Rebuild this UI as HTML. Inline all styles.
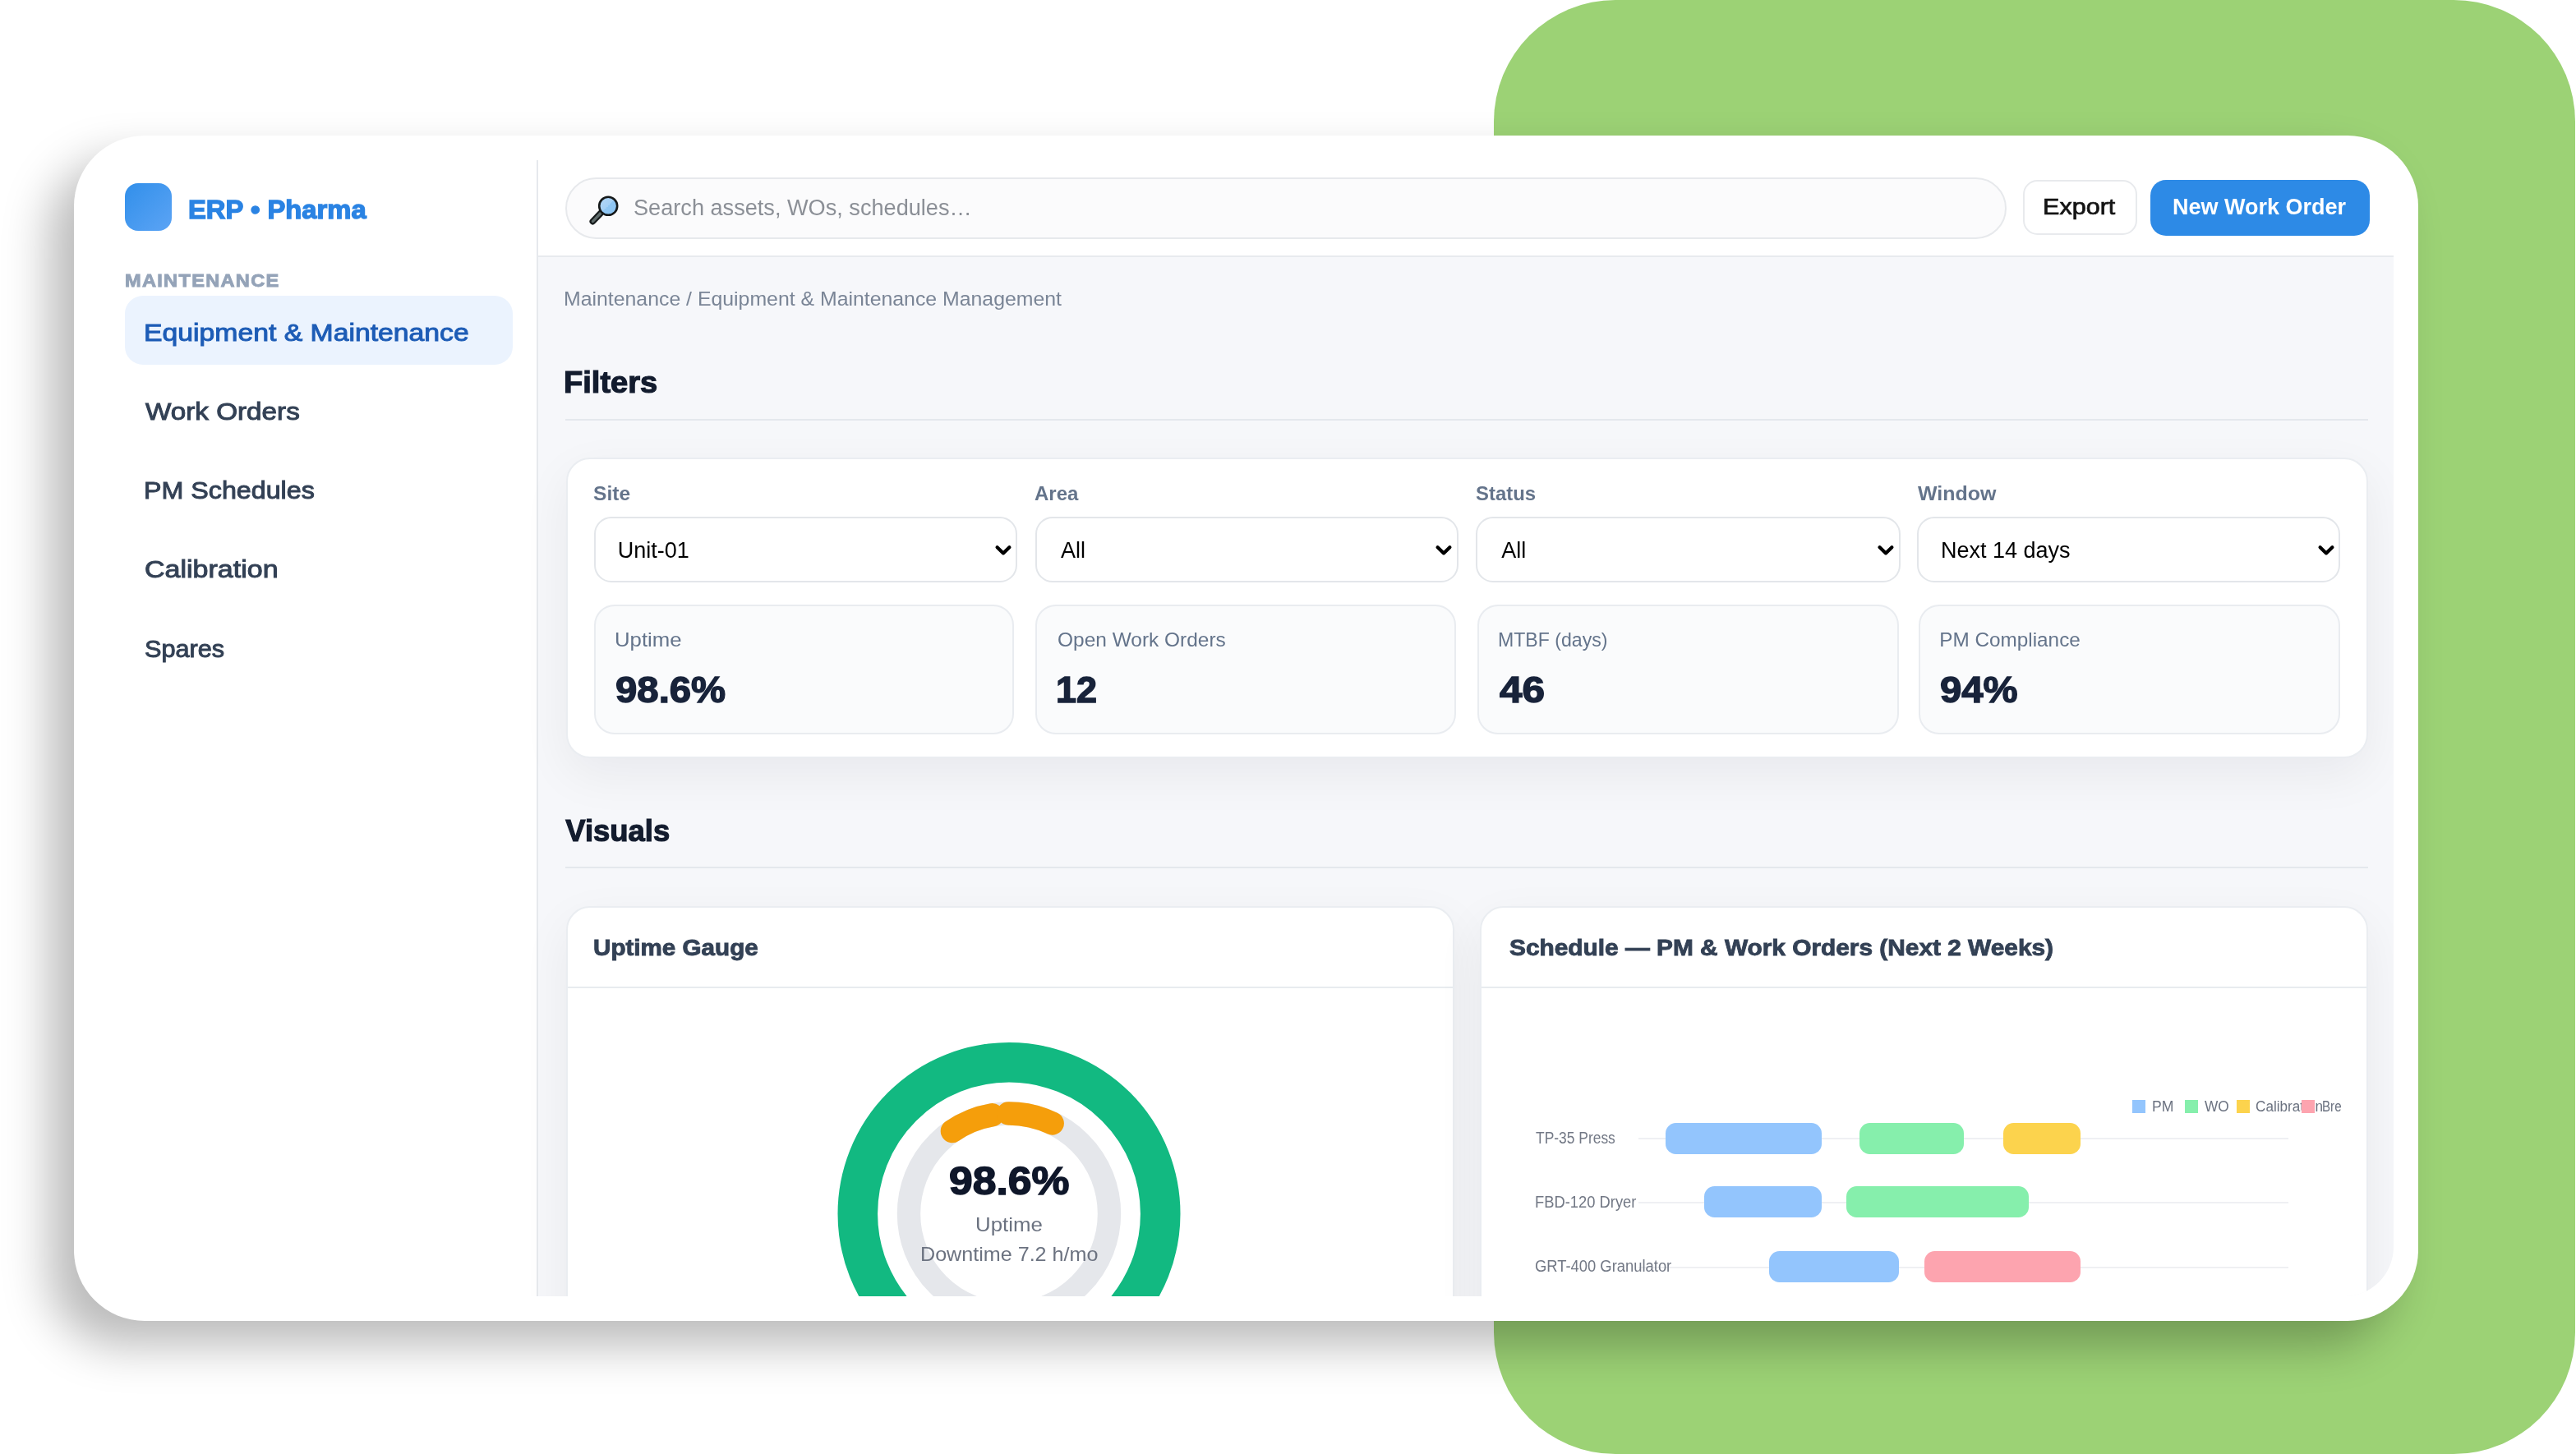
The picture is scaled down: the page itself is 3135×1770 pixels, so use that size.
<!DOCTYPE html>
<html lang="en">
<head>
<meta charset="utf-8">
<title>ERP • Pharma — Equipment &amp; Maintenance Management</title>
<style>
*{box-sizing:border-box;margin:0;padding:0}
html,body{width:3135px;height:1770px;overflow:hidden;background:#fff}
body{position:relative;font-family:"Liberation Sans",Arial,sans-serif}
.a,.g{position:absolute}
.g{left:0;top:0}
.t{position:absolute;display:block;white-space:pre;line-height:1;transform-origin:0 0;text-decoration:none;font-family:"Liberation Sans",Arial,sans-serif}
#green{left:1818px;top:0;width:1316px;height:1770px;background:#9cd275;border-radius:148px}
#card{left:90px;top:165px;width:2853.4px;height:1443px;background:#fff;border-radius:86px;box-shadow:-30px 30px 56px rgba(0,0,0,.27)}
#inner{left:0;top:0;width:2913px;height:1577.6px;overflow:hidden;border-bottom-right-radius:60px;filter:blur(.7px)}
#content{left:655px;top:312px;width:2258px;height:1300px;background:#f6f7fa}
#sideline{left:653.4px;top:195px;width:2px;height:1400px;background:#e6e9ed}
#headline{left:655px;top:311px;width:2258px;height:2px;background:#e8eaee}
#logo{left:151.8px;top:223px;width:57px;height:57.6px;border-radius:16px;background:linear-gradient(135deg,#318fea 0%,#5ca4f5 100%)}
#navact{left:151.9px;top:360.3px;width:471.8px;height:83.5px;border-radius:22px;background:#ebf3fe}
#search{left:687.5px;top:215.5px;width:1754px;height:75px;border-radius:38px;background:#fbfbfc;border:2px solid #e7e9ec}
#btn1{left:2462.2px;top:219.3px;width:138.4px;height:67.2px;border-radius:17.5px;background:#fff;border:2px solid #e8eaed}
#btn2{left:2617px;top:219px;width:266.6px;height:67.8px;border-radius:19px;background:#2d8ae6}
.hr{height:2px;background:#e4e8ed;left:688px;width:2194px;border:0}
.panel{background:#fff;border:2px solid #eaedf1;border-radius:29px;box-shadow:0 20px 60px rgba(16,24,40,.06)}
#filters{left:688.9px;top:557px;width:2193.2px;height:365.8px}
.sel{top:628.7px;height:80.8px;border-radius:21px;background:#fff;border:2px solid #e3e6ea}
.tile{top:735.5px;height:158px;border-radius:25px;background:#fafbfc;border:2px solid #e9ecf0}
.chev{top:661px;width:24px;height:18px}
#gcard{left:688.9px;top:1103px;width:1080.7px;height:600px}
#scard{left:1800.8px;top:1103px;width:1081.3px;height:600px}
.chl{top:1200.5px;height:2px;background:#e8ebef}
.row{height:2px;background:#eff0f3;left:1994px;width:791px}
.bar{height:37.8px;border-radius:12.6px}
.sw{top:1339.3px;width:15.9px;height:15.8px}
#svgclip{left:0;top:0;width:2848.8px;height:1577.6px;overflow:hidden}
</style>
</head>
<body>
<div class="a" id="green"></div>
<div class="a" id="card"></div>
<div class="a" id="inner">
  <div class="a" id="content"></div>
  <div class="a" id="sideline"></div>
  <div class="a" id="headline"></div>

  <aside class="g">
    <div class="a" id="logo"></div>
<div class="t" style="left:229.2px;top:240.1px;font-size:30.6px;font-weight:700;color:#2a83e3;transform:scaleX(1.0713);-webkit-text-stroke:1.3px #2a83e3;">ERP • Pharma</div>
    <nav class="g">
<div class="t" style="left:151.5px;top:330.8px;font-size:22.3px;font-weight:700;color:#94a3b8;letter-spacing:1.2px;transform:scaleX(1.0594);-webkit-text-stroke:0.9px #94a3b8;">MAINTENANCE</div>
      <div class="a" id="navact"></div>
<a class="t" style="left:175.0px;top:389.2px;font-size:30.4px;font-weight:400;color:#1d5cb6;transform:scaleX(1.1102);-webkit-text-stroke:1.0px #1d5cb6;">Equipment &amp; Maintenance</a>
<a class="t" style="left:177.2px;top:485.3px;font-size:30.4px;font-weight:400;color:#334155;transform:scaleX(1.0936);-webkit-text-stroke:1.0px #334155;">Work Orders</a>
<a class="t" style="left:175.1px;top:581.2px;font-size:30.4px;font-weight:400;color:#334155;transform:scaleX(1.0603);-webkit-text-stroke:1.0px #334155;">PM Schedules</a>
<a class="t" style="left:176.1px;top:677.2px;font-size:30.4px;font-weight:400;color:#334155;transform:scaleX(1.1189);-webkit-text-stroke:1.0px #334155;">Calibration</a>
<a class="t" style="left:176.2px;top:773.8px;font-size:30.4px;font-weight:400;color:#334155;transform:scaleX(1.0084);-webkit-text-stroke:1.0px #334155;">Spares</a>
    </nav>
  </aside>

  <header class="g">
    <div class="a" id="search" role="search"></div>
    <svg class="a" style="left:712px;top:232px" width="48" height="48" viewBox="0 0 48 48" aria-hidden="true">
      <defs><linearGradient id="lens" x1="0" y1="0" x2="1" y2="1"><stop offset="0" stop-color="#b5d8f7"/><stop offset=".5" stop-color="#a3cff5"/><stop offset=".5" stop-color="#8fc6f3"/><stop offset="1" stop-color="#8cc4f2"/></linearGradient></defs>
      <line x1="19" y1="27.5" x2="9.3" y2="37.6" stroke="#15191a" stroke-width="7.6" stroke-linecap="round"/>
      <line x1="19" y1="27.5" x2="9.5" y2="37.4" stroke="#5f6b6b" stroke-width="3.4" stroke-linecap="round"/>
      <circle cx="28.2" cy="18.8" r="11" fill="url(#lens)" stroke="#15191a" stroke-width="2.6"/>
    </svg>
<span class="t" style="left:771.3px;top:239.6px;font-size:27px;font-weight:400;color:#8b8f96;transform:scaleX(1.0049);">Search assets, WOs, schedules…</span>
    <div class="a" id="btn1" role="button"></div>
    <div class="a" id="btn2" role="button"></div>
<span class="t" style="left:2485.9px;top:239.4px;font-size:27px;font-weight:400;color:#141414;transform:scaleX(1.1316);-webkit-text-stroke:0.7px #141414;">Export</span>
<span class="t" style="left:2643.9px;top:239.4px;font-size:27px;font-weight:700;color:#ffffff;">New Work Order</span>
  </header>

  <main class="g">
<div class="t" style="left:686.0px;top:351.7px;font-size:24.3px;font-weight:400;color:#7a8596;transform:scaleX(1.0220);">Maintenance / Equipment &amp; Maintenance Management</div>
    <section class="g">
<h2 class="t" style="left:685.9px;top:447.8px;font-size:36.45px;font-weight:700;color:#131c2e;transform:scaleX(1.0449);-webkit-text-stroke:1.2px #131c2e;">Filters</h2>
      <hr class="a hr" style="top:510px">
      <div class="a panel" id="filters"></div>
<label class="t" style="left:721.5px;top:588.7px;font-size:24.3px;font-weight:700;color:#64748b;transform:scaleX(1.0116);">Site</label>
<label class="t" style="left:1259.0px;top:588.7px;font-size:24.3px;font-weight:700;color:#64748b;transform:scaleX(0.9887);">Area</label>
<label class="t" style="left:1795.5px;top:588.7px;font-size:24.3px;font-weight:700;color:#64748b;transform:scaleX(0.9847);">Status</label>
<label class="t" style="left:2333.5px;top:588.7px;font-size:24.3px;font-weight:700;color:#64748b;transform:scaleX(1.0269);">Window</label>
      <div class="a sel" role="combobox" style="left:722.7px;width:515.8px"></div>
      <div class="a sel" role="combobox" style="left:1260px;width:514.8px"></div>
      <div class="a sel" role="combobox" style="left:1796.3px;width:516.4px"></div>
      <div class="a sel" role="combobox" style="left:2333px;width:515.2px"></div>
      <svg class="a chev" style="left:1209px" viewBox="0 0 24 18"><path d="M4.6 5.2 L12 12.4 L19.4 5.2" fill="none" stroke="#000" stroke-width="4.2" stroke-linecap="round" stroke-linejoin="round"/></svg>
      <svg class="a chev" style="left:1745.3px" viewBox="0 0 24 18"><path d="M4.6 5.2 L12 12.4 L19.4 5.2" fill="none" stroke="#000" stroke-width="4.2" stroke-linecap="round" stroke-linejoin="round"/></svg>
      <svg class="a chev" style="left:2283px" viewBox="0 0 24 18"><path d="M4.6 5.2 L12 12.4 L19.4 5.2" fill="none" stroke="#000" stroke-width="4.2" stroke-linecap="round" stroke-linejoin="round"/></svg>
      <svg class="a chev" style="left:2818.7px" viewBox="0 0 24 18"><path d="M4.6 5.2 L12 12.4 L19.4 5.2" fill="none" stroke="#000" stroke-width="4.2" stroke-linecap="round" stroke-linejoin="round"/></svg>
<span class="t" style="left:751.7px;top:656.8px;font-size:27px;font-weight:400;color:#000;">Unit-01</span>
<span class="t" style="left:1291.0px;top:656.8px;font-size:27px;font-weight:400;color:#000;">All</span>
<span class="t" style="left:1827.3px;top:656.8px;font-size:27px;font-weight:400;color:#000;">All</span>
<span class="t" style="left:2362.0px;top:656.8px;font-size:27px;font-weight:400;color:#000;">Next 14 days</span>
      <div class="a tile" style="left:722.7px;width:511.8px"></div>
      <div class="a tile" style="left:1260.1px;width:512.2px"></div>
      <div class="a tile" style="left:1797.5px;width:513px"></div>
      <div class="a tile" style="left:2334.9px;width:513.3px"></div>
<div class="t" style="left:748.0px;top:766.9px;font-size:24.3px;font-weight:400;color:#64748b;transform:scaleX(1.0595);">Uptime</div>
<div class="t" style="left:1286.5px;top:766.9px;font-size:24.3px;font-weight:400;color:#64748b;transform:scaleX(1.0069);">Open Work Orders</div>
<div class="t" style="left:1823.0px;top:766.9px;font-size:24.3px;font-weight:400;color:#64748b;transform:scaleX(0.9511);">MTBF (days)</div>
<div class="t" style="left:2360.3px;top:766.9px;font-size:24.3px;font-weight:400;color:#64748b;">PM Compliance</div>
<div class="t" style="left:749.0px;top:818.0px;font-size:43.8px;font-weight:700;color:#18233a;transform:scaleX(1.0805);-webkit-text-stroke:1.4px #18233a;">98.6%</div>
<div class="t" style="left:1285.4px;top:818.0px;font-size:43.8px;font-weight:700;color:#18233a;transform:scaleX(1.0261);-webkit-text-stroke:1.4px #18233a;">12</div>
<div class="t" style="left:1824.9px;top:818.0px;font-size:43.8px;font-weight:700;color:#18233a;transform:scaleX(1.1292);-webkit-text-stroke:1.4px #18233a;">46</div>
<div class="t" style="left:2361.2px;top:818.0px;font-size:43.8px;font-weight:700;color:#18233a;transform:scaleX(1.0802);-webkit-text-stroke:1.4px #18233a;">94%</div>
    </section>

    <section class="g">
<h2 class="t" style="left:688.3px;top:993.6px;font-size:36.45px;font-weight:700;color:#131c2e;-webkit-text-stroke:1.2px #131c2e;">Visuals</h2>
      <hr class="a hr" style="top:1055.3px">

      <article class="g">
        <div class="a panel" id="gcard"></div>
        <div class="a chl" style="left:690.9px;width:1076.7px"></div>
<h3 class="t" style="left:722.3px;top:1139.4px;font-size:28.35px;font-weight:700;color:#334155;transform:scaleX(1.0445);-webkit-text-stroke:0.9px #334155;">Uptime Gauge</h3>
        <svg class="a" style="left:967.7px;top:1217.8px" width="520" height="520" viewBox="0 0 520 520" role="img" aria-label="Uptime gauge">
          <circle cx="260" cy="259.5" r="184.2" fill="none" stroke="#12b981" stroke-width="48.6"/>
          <circle cx="260" cy="259.5" r="122" fill="none" stroke="#e5e7eb" stroke-width="28.4"/>
          <path d="M190.90 158.96 A122 122 0 0 1 239.65 139.21" fill="none" stroke="#f59e0b" stroke-width="28.4" stroke-linecap="round"/>
          <path d="M259.15 137.50 A122 122 0 0 1 312.71 149.48" fill="none" stroke="#f59e0b" stroke-width="28.4" stroke-linecap="round"/>
        </svg>
<div class="t" style="left:1154.8px;top:1414.0px;font-size:47.4px;font-weight:700;color:#0f172a;transform:scaleX(1.0902);-webkit-text-stroke:1.5px #0f172a;">98.6%</div>
<div class="t" style="left:1187.0px;top:1478.5px;font-size:24.3px;font-weight:400;color:#6b7280;transform:scaleX(1.0622);">Uptime</div>
<div class="t" style="left:1120.4px;top:1514.9px;font-size:24.3px;font-weight:400;color:#6b7280;transform:scaleX(1.0340);">Downtime 7.2 h/mo</div>
      </article>

      <article class="g">
        <div class="a panel" id="scard"></div>
        <div class="a chl" style="left:1802.8px;width:1077.3px"></div>
<h3 class="t" style="left:1836.8px;top:1138.5px;font-size:28.35px;font-weight:700;color:#334155;transform:scaleX(1.0525);-webkit-text-stroke:0.9px #334155;">Schedule — PM &amp; Work Orders (Next 2 Weeks)</h3>
        <div class="a row" style="top:1385px"></div>
        <div class="a row" style="top:1462.5px"></div>
        <div class="a row" style="top:1541.7px"></div>
        <div class="a bar" style="left:2026.5px;width:190px;top:1367.4px;background:#93c5fd"></div>
        <div class="a bar" style="left:2263.4px;width:127px;top:1367.4px;background:#86efac"></div>
        <div class="a bar" style="left:2437.5px;width:94.6px;top:1367.4px;background:#fcd34d"></div>
        <div class="a bar" style="left:2073.5px;width:143px;top:1444.3px;background:#93c5fd"></div>
        <div class="a bar" style="left:2247.4px;width:221.2px;top:1444.3px;background:#86efac"></div>
        <div class="a bar" style="left:2152.8px;width:158.2px;top:1523.3px;background:#93c5fd"></div>
        <div class="a bar" style="left:2342.3px;width:189.8px;top:1523.3px;background:#fda4af"></div>
<span class="t" style="left:1868.6px;top:1376.2px;font-size:19.5px;font-weight:400;color:#727885;transform:scaleX(0.8935);">TP-35 Press</span>
<span class="t" style="left:1867.7px;top:1454.2px;font-size:19.5px;font-weight:400;color:#727885;transform:scaleX(0.9411);">FBD-120 Dryer</span>
<span class="t" style="left:1868.4px;top:1531.9px;font-size:19.5px;font-weight:400;color:#727885;transform:scaleX(0.9429);">GRT-400 Granulator</span>
        <div class="a" id="svgclip">
          <div class="a sw" style="left:2595.2px;background:#93c5fd"></div>
<span class="t" style="left:2619.0px;top:1338.4px;font-size:18px;font-weight:400;color:#6b7280;transform:scaleX(0.9760);">PM</span>
          <div class="a sw" style="left:2658.8px;background:#86efac"></div>
<span class="t" style="left:2683.0px;top:1338.4px;font-size:18px;font-weight:400;color:#6b7280;transform:scaleX(0.9600);">WO</span>
          <div class="a sw" style="left:2722.2px;background:#fcd34d"></div>
<span class="t" style="left:2745.1px;top:1338.4px;font-size:18px;font-weight:400;color:#6b7280;transform:scaleX(0.9524);">Calibration</span>
          <div class="a sw" style="left:2801.4px;background:#fda4af"></div>
<span class="t" style="left:2825.7px;top:1338.4px;font-size:18px;font-weight:400;color:#6b7280;transform:scaleX(0.8409);">Breakdown</span>
        </div>
      </article>
    </section>
  </main>
</div>
</body>
</html>
